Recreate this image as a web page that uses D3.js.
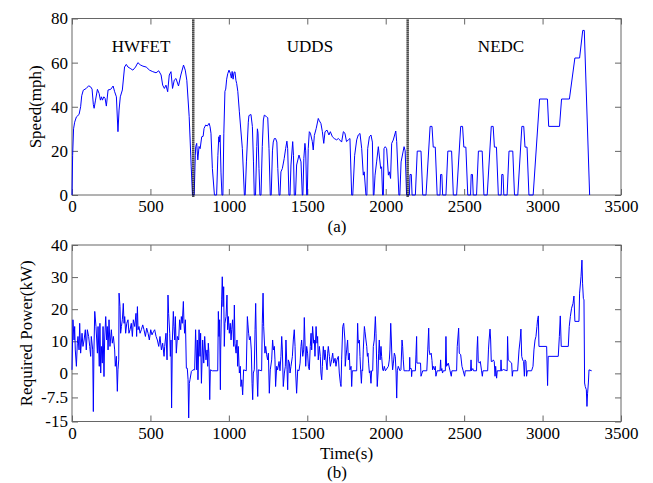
<!DOCTYPE html>
<html><head><meta charset="utf-8">
<script src="https://cdn.jsdelivr.net/npm/d3@7/dist/d3.min.js"></script>
<style>
body{margin:0;background:#fff}
text{font-family:"Liberation Serif","Times New Roman",serif;}
</style>
</head><body>
<svg id="c" width="653" height="483"></svg>
<script>
// ---------- DATA ----------
const xTicks = [0,500,1000,1500,2000,2500,3000,3500];
const speedTicks = [0,20,40,60,80];
const powerTicks = [-15,-7.5,0,10,20,30,40];
const cycleNames = ["HWFET","UDDS","NEDC"];
const cycleLabelTime = [440,1517,2735];
const cycleBoundaries = [773,2140];

// speed trace [time s, speed mph]
const speedSeries = [
[0,0],[4,18],[10,30],[17,33],[28,35.4],[45,36.5],[55,40],[62,45],[72,47.5],[91,48.3],[106,49.5],[119,49],[128,48],[136,41],[141,39.3],[150,43],[162,47.9],[173,46],[181,43],[188,44.5],[194,43],[203,44.5],[211,43.8],[219,40.3],[230,47.6],[247,47.9],[262,49.4],[272,46.8],[283,44.5],[293,28.7],[300,38.5],[308,44.5],[321,47.6],[335,58],[346,59.2],[357,58],[371,57.4],[388,56.6],[405,58],[420,60],[435,59],[452,58.4],[473,58],[494,56.6],[515,55.9],[536,55.4],[553,56.3],[568,54.4],[578,49.8],[589,48.3],[599,49.8],[610,46.8],[620,54.4],[631,55.9],[641,48.3],[652,52.1],[663,52.8],[679,49.4],[694,54.4],[711,58.9],[722,56.6],[732,52],[747,35.5],[760,12.8],[768,0],
[779,0],[786,18],[789,22],[795,23.4],[802,15.9],[810,22],[817,21],[827,26.4],[836,26.6],[842,30.2],[852,31.7],[863,31.3],[874,32.5],[880,31],[886,28],[895,12],[908,0],[922,0],[930,18],[936,26.4],[940,24],[944,27.2],[950,10],[956,0],[962,0],[968,28],[975,47],[980,48],[986,52.5],[993,55],[1001,56.6],[1010,55],[1016,53],[1021,56],[1027,52.5],[1033,55.6],[1039,55.8],[1045,52],[1050,50.5],[1057,47],[1067,37.7],[1086,21],[1099,0],
[1104,0],[1112,15],[1124,33],[1128,36],[1141,36.5],[1150,31],[1157,15],[1162,0],[1170,0],[1178,22],[1182,30],[1186,28],[1192,12],[1198,0],[1205,0],[1213,22],[1220,34],[1226,36.2],[1240,35.5],[1248,35],[1256,21],[1264,0],[1270,0],[1278,20],[1283,24],[1290,25.6],[1298,25.6],[1306,24],[1312,12],[1320,0],[1326,0],[1332,10.5],[1341,12],[1353,16.6],[1362,21],[1370,24.4],[1375,21],[1383,0],[1390,0],[1396,13.6],[1407,24.2],[1412,18],[1417,0],[1425,0],[1432,13.6],[1447,18.1],[1460,15],[1468,0],[1472,0],[1478,16.6],[1485,23.4],[1490,20],[1496,0],
[1500,0],[1506,21],[1513,28.7],[1520,28],[1532,24.2],[1538,20.4],[1545,27],[1557,30.2],[1570,34.7],[1575,33.9],[1587,32.4],[1596,28.7],[1605,23.4],[1613,28.7],[1626,29.4],[1638,27.2],[1647,28.7],[1660,26.4],[1672,25.6],[1687,25],[1698,25.6],[1708,24.9],[1719,24],[1730,28.7],[1740,28],[1750,24.2],[1762,25],[1772,25.6],[1783,0],[1790,0],[1802,18],[1815,25],[1825,27.2],[1836,27.9],[1847,21],[1857,9],[1863,10.5],[1874,0],[1880,0],[1885,21],[1896,26.4],[1906,27.2],[1915,24],[1921,0],[1925,0],[1932,9],[1942,15],[1953,21.9],[1968,12],[1974,12.8],[1980,0],[1985,0],[1989,21],[1997,21.9],[2006,21],[2017,9],[2023,10.5],[2031,7.5],[2038,23.4],[2048,24.9],[2064,29],[2070,24.2],[2084,0],[2090,0],[2098,15],[2117,21.9],[2124,20],[2133,0],
[2140,0],[2151,0],[2155,9.3],[2163,9.3],[2168,0],[2189,0],[2201,19.9],[2225,19.9],[2236,0],[2257,0],[2283,31.1],[2295,31.1],[2303,21.7],[2316,21.7],[2328,0],
[2335,0],[2346,0],[2350,9.3],[2358,9.3],[2363,0],[2384,0],[2396,19.9],[2420,19.9],[2431,0],[2452,0],[2478,31.1],[2490,31.1],[2498,21.7],[2511,21.7],[2523,0],
[2530,0],[2541,0],[2545,9.3],[2553,9.3],[2558,0],[2579,0],[2591,19.9],[2615,19.9],[2626,0],[2647,0],[2673,31.1],[2685,31.1],[2693,21.7],[2706,21.7],[2718,0],
[2725,0],[2736,0],[2740,9.3],[2748,9.3],[2753,0],[2774,0],[2786,19.9],[2810,19.9],[2821,0],[2842,0],[2868,31.1],[2880,31.1],[2888,21.7],[2901,21.7],[2913,0],
[2920,0],[2940,0],[2981,43.5],[3031,43.5],[3039,31.1],[3108,31.1],[3121,43.5],[3171,43.5],[3206,62.1],[3236,62.1],[3256,74.6],[3266,74.6],[3300,0]
];

// required power trace [time s, power kW]
const powerSeries = [
[0,1.1],[6,16.7],[13,10.4],[17,14.6],[21,7.3],[28,2.2],[34,9.4],[38,11.5],[45,7.3],[49,15.6],[55,6.3],[64,12.5],[70,8.4],[77,10.4],[85,13.6],[91,7.3],[98,13.6],[106,11.5],[113,8.4],[119,5.3],[123,11.5],[132,7.3],[136,-11.9],[140,7.3],[145,19.3],[153,14.6],[162,6.3],[166,14.6],[174,2.2],[178,15.6],[183,0.1],[187,8.4],[193,3.2],[198,14.6],[204,-1],[208,10.4],[215,17.7],[221,10.4],[225,14.6],[230,7.3],[236,16.7],[242,8.4],[251,13.6],[257,9.4],[264,11.5],[272,7.3],[276,2.2],[283,5.3],[289,-5.6],[293,1.1],[298,4.2],[300,25],[306,20.8],[310,12.5],[315,14.6],[321,16.7],[327,21.8],[332,15.6],[336,17.7],[342,12.5],[349,15.6],[357,16.7],[363,12.5],[370,13.6],[378,15.6],[385,11.5],[391,16.7],[400,14.6],[408,18.7],[412,11.5],[417,20.8],[421,13.6],[427,14.6],[434,12.5],[442,13.6],[451,15.1],[459,13.6],[468,11.5],[476,14.1],[485,12.5],[493,10.4],[502,13.6],[510,12],[519,13],[527,13.6],[536,11.5],[544,10.4],[553,8.4],[561,11.5],[570,7.3],[578,9.4],[587,5.3],[591,8.4],[599,12.5],[606,4.2],[612,24.4],[616,18.7],[623,12.5],[627,5.3],[631,10.4],[635,-10.8],[640,10.4],[646,19.3],[650,14.6],[655,10.4],[659,17.7],[665,6.3],[672,11.5],[680,10.4],[686,16.7],[693,13.6],[697,17.7],[703,15.6],[710,22.4],[714,15.6],[718,12.5],[723,16.7],[729,1.6],[735,1.6],[740,-2],[744,-13.9],[748,-3.1],[752,-2],[761,0.6],[771,1.1],[782,1.1],[788,13.6],[795,1.1],[799,10.4],[803,-2],[810,13.6],[816,5.3],[820,12.5],[825,-3.1],[833,10.4],[840,3.2],[846,11.5],
[854,4.2],[861,7.3],[865,2.2],[869,9.4],[873,6.3],[878,-8.2],[882,1.1],[895,0.8],[929,0.8],[933,19.3],[937,11.5],[941,16.7],[946,-5.1],[948,7.3],[954,22.9],[958,30.1],[963,20.8],[967,27],[971,8.4],[975,15.6],[982,17.7],[988,24.4],[992,13.6],[997,17.7],[1003,12.5],[1009,15.6],[1014,10.4],[1018,13.6],[1024,16.7],[1031,8.4],[1035,21.3],[1039,9.4],[1046,6.3],[1052,10.4],[1056,2.2],[1060,8.4],[1067,0.1],[1073,2.2],[1077,-4.1],[1082,-2],[1088,-6.7],[1094,1.1],[1111,0.8],[1118,17.7],[1122,15.1],[1126,12.5],[1131,10.4],[1137,11.5],[1143,7.3],[1148,-3.1],[1152,-8.2],[1156,0.1],[1162,1.1],[1167,13.6],[1171,21.8],[1175,10.4],[1179,0.1],[1184,-7.2],[1188,1.1],[1209,0.8],[1213,15.6],[1218,25],[1222,14.6],[1226,10.4],[1230,6.3],[1235,8.4],[1241,5.8],[1247,4.2],[1252,6.3],[1258,-6.2],[1264,1.1],[1273,4.2],[1279,10.4],[1284,7.3],[1290,8.4],[1294,4.2],[1298,-4.1],[1305,2.2],[1311,1.1],[1320,3.7],[1326,0.8],[1332,5.3],[1337,11.5],[1341,7.3],[1347,-4.1],[1354,0.1],[1360,2.2],[1364,10.4],[1371,1.1],[1375,-5.1],[1379,4.2],[1386,3.2],[1390,0.1],[1396,2.2],[1405,5.3],[1411,10.4],[1417,13.6],[1422,8.4],[1426,0.1],[1432,-6.2],[1439,1.1],[1447,0.8],[1454,3.2],[1460,8.4],[1464,10.4],[1471,5.3],[1477,7.3],[1481,17.4],[1485,10.4],[1490,2.2],[1496,8.4],[1502,6.3],[1507,2.2],[1513,1.1],[1519,8.4],[1524,12.5],[1528,7.3],[1534,14.6],[1541,9.4],[1545,10.4],[1549,5.3],[1556,14.6],[1562,9.4],[1566,11.5],[1570,4.2],[1577,8.4],[1583,5.3],[1587,0.1],[1592,-2],[1596,2.2],[1602,8.4],[1609,4.2],[1613,7.3],[1619,4.2],[1626,1.1],[1630,6.3],[1634,8.4],[1641,5.3],[1647,2.2],[1655,4.2],[1662,6.3],[1668,3.2],[1677,4.7],[1683,2.2],[1689,4.2],[1698,5.3],[1704,0.1],[1711,-3.1],[1715,-4.1],[1719,4.2],[1726,14.6],[1732,15.6],[1740,10.4],
[1742,2.2],[1747,5.3],[1751,7.3],[1757,10.4],[1762,4.2],[1768,6.3],[1772,1.1],[1779,2.2],[1783,-4.1],[1787,0.8],[1815,0.8],[1821,15.6],[1825,9.4],[1832,10.4],[1836,5.3],[1840,1.1],[1845,-3.1],[1849,1.1],[1853,0.8],[1857,7.3],[1864,14.6],[1868,13],[1874,10.4],[1879,8.4],[1883,5.3],[1887,6.3],[1891,3.2],[1896,0.1],[1900,0.8],[1906,-3.1],[1910,0.8],[1917,0.8],[1921,8.4],[1927,10.4],[1934,17.7],[1938,12.5],[1942,4.2],[1946,-4.1],[1951,0.1],[1955,6.3],[1959,10.4],[1964,4.2],[1970,8.4],[1974,5.3],[1981,1.1],[1985,0.8],[1991,2.2],[1998,0.8],[2017,2.2],[2023,4.2],[2027,7.3],[2032,15.6],[2036,10.4],[2040,4.2],[2044,1.1],[2049,3.2],[2055,6.3],[2061,5.3],[2066,0.1],[2070,-7.7],[2074,0.8],[2080,2.2],[2091,0.8],[2097,1.1],[2104,10.4],[2108,8.4],[2112,4.2],[2117,0.8],[2140,0.8],
[2151,0.8],[2153,5],[2155,1.5],[2163,1.5],[2165,-1],[2168,0.8],[2189,0.8],[2193,6],[2197,11.5],[2199,3.2],[2222,3.2],[2225,-0.9],[2236,0.8],[2262,0.8],[2268,7.3],[2274,14.1],[2277,7.3],[2282,5.8],[2290,6.3],[2295,4],[2299,1.1],[2303,2.2],[2312,1.1],[2316,2.2],[2320,-0.9],[2328,0.8],
[2346,0.8],[2350,4.2],[2353,0.8],[2358,1.5],[2362,0.1],[2367,0.8],[2380,0.8],[2384,11.5],[2388,2.2],[2399,3.2],[2410,0.8],[2418,-0.9],[2422,0.8],[2452,0.8],[2456,8.4],[2465,14.1],[2469,6.3],[2478,5.8],[2486,2.2],[2494,0.8],[2503,-0.9],[2507,0.8],
[2541,0.8],[2544,4.2],[2547,0.8],[2555,1.5],[2560,0.8],[2579,0.8],[2582,7.3],[2586,11.5],[2590,3.7],[2597,3.2],[2603,3.7],[2611,0.8],[2616,-0.9],[2620,0.8],[2650,0.8],[2655,7.3],[2659,10.4],[2665,13.8],[2669,10.4],[2673,3.7],[2680,3.7],[2686,4.2],[2692,3.7],[2697,-0.9],[2701,2.2],[2707,-1.5],[2711,0.8],
[2733,0.8],[2735,4.2],[2738,0.8],[2750,1.2],[2774,0.8],[2777,11.5],[2781,4.2],[2792,3.7],[2803,3.2],[2807,-0.9],[2811,0.8],[2841,0.8],[2850,7.3],[2857,10.4],[2862,13.8],[2867,5.3],[2873,4.2],[2879,3.7],[2884,-0.9],[2888,4.2],[2894,3.7],[2898,-0.9],[2903,0.8],
[2930,0.8],[2939,2.2],[2945,7.3],[2952,10.4],[2958,11.5],[2964,14.6],[2968,16.7],[2973,17.9],[2977,8.4],[3026,8.4],[3032,-3.8],[3036,5.3],[3100,5.3],[3107,11.5],[3113,17.9],[3119,8.4],[3164,8.4],[3170,14.6],[3177,17.7],[3185,20.3],[3194,21.8],[3200,24.1],[3206,16.2],[3232,16.2],[3236,25],[3245,30.1],[3251,35.3],[3255,28.1],[3260,23.4],[3264,22.9],[3266,10.4],[3268,-3],[3272,-4.1],[3279,-5.1],[3283,-10.3],[3287,-6.2],[3292,-3],[3296,1.1],[3313,0.8]
];

// ---------- DRAW ----------
const svg = d3.select("#c");
const FONT = 17;
const AX = "#666";
const x = d3.scaleLinear().domain([0,3500]).range([72,621]);
const ySpeed = d3.scaleLinear().domain([0,80]).range([195,18.5]);
const yPower = d3.scaleLinear().domain([-15,40]).range([421.5,245]);

function styleAxis(g){
  g.select(".domain").remove();
  g.selectAll(".tick line").attr("stroke",AX);
  g.selectAll("text").attr("font-size",FONT).attr("fill","#000")
   .attr("font-family","Liberation Serif, Times New Roman, serif");
}

function panel(y, yTicks, series){
  const [yb,yt] = y.range();
  const g = svg.append("g");
  g.append("g").attr("transform",`translate(0,${yb})`)
    .call(d3.axisBottom(x).tickValues(xTicks).tickSize(-6).tickPadding(5).tickFormat(d3.format("d")))
    .call(styleAxis);
  g.append("g").attr("transform",`translate(0,${yt})`)
    .call(d3.axisTop(x).tickValues(xTicks).tickSize(-6).tickFormat(""))
    .call(styleAxis);
  g.append("g").attr("transform",`translate(${x.range()[0]},0)`)
    .call(d3.axisLeft(y).tickValues(yTicks).tickSize(-6).tickPadding(4).tickFormat(d=>String(d)))
    .call(styleAxis);
  g.append("g").attr("transform",`translate(${x.range()[1]},0)`)
    .call(d3.axisRight(y).tickValues(yTicks).tickSize(-6).tickFormat(""))
    .call(styleAxis);
  g.append("rect").attr("x",x.range()[0]).attr("y",yt)
    .attr("width",x.range()[1]-x.range()[0]).attr("height",yb-yt)
    .attr("fill","none").attr("stroke",AX).attr("stroke-width",1);
  const line = d3.line().x(d=>x(d[0])).y(d=>y(d[1]));
  g.append("path").datum(series).attr("d",line)
    .attr("fill","none").attr("stroke","#0000ff").attr("stroke-width",1)
    .attr("stroke-linejoin","round");
  return g;
}

const gTop = panel(ySpeed, speedTicks, speedSeries);
// cycle dividers
gTop.selectAll("line.div").data(cycleBoundaries).join("line")
  .attr("x1",d=>x(d)).attr("x2",d=>x(d))
  .attr("y1",ySpeed(80)+1).attr("y2",ySpeed(0)+2)
  .attr("stroke","#111").attr("stroke-width",2.5).attr("stroke-dasharray","1.2,0.8");
gTop.selectAll("text.cyc").data(cycleNames).join("text")
  .attr("x",(d,i)=>x(cycleLabelTime[i])).attr("y",ySpeed(65))
  .attr("text-anchor","middle").attr("font-size",FONT).text(d=>d);

panel(yPower, powerTicks, powerSeries);

// labels
svg.append("text").attr("transform","translate(41,106.8) rotate(-90)")
  .attr("text-anchor","middle").attr("font-size",FONT).text("Speed(mph)");
svg.append("text").attr("transform","translate(31.5,333.3) rotate(-90)")
  .attr("text-anchor","middle").attr("font-size",FONT).text("Required Power(kW)");
svg.append("text").attr("x",337).attr("y",232).attr("text-anchor","middle").attr("font-size",FONT).text("(a)");
svg.append("text").attr("x",346.5).attr("y",459).attr("text-anchor","middle").attr("font-size",FONT).text("Time(s)");
svg.append("text").attr("x",337).attr("y",478).attr("text-anchor","middle").attr("font-size",FONT).text("(b)");
</script>
</body></html>
